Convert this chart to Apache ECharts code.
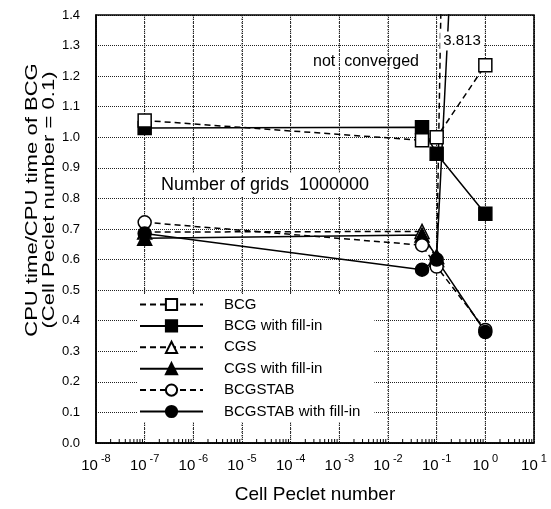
<!DOCTYPE html>
<html>
<head>
<meta charset="utf-8">
<script src="https://cdn.jsdelivr.net/npm/echarts@6/dist/echarts.min.js"></script>
<style>
html, body { margin: 0; padding: 0; background: #fff; }
#chart { width: 551px; height: 509px; }
</style>
</head>
<body>
<div id="chart"></div>
<script>
var FONT = '"Liberation Sans", Arial, Helvetica, sans-serif';

// Cell Peclet number of each run
var peclet = [1e-7, 0.05, 0.1, 1];

// CPU time / CPU time of BCG (Pe = 0.1)
var bcg         = [1.055, 0.99, 1.0, 1.236];
var bcgFill     = [1.03, 1.033, 0.946, 0.75];
var cgs         = [0.69, 0.692, 0.60, 10];    // Pe = 1 did not converge, drawn off the top
var cgsFill     = [0.67, 0.68, 0.61, 3.813];
var bcgstab     = [0.722, 0.647, 0.577, 0.37];
var bcgstabFill = [0.685, 0.567, 0.60, 0.363];

// decade exponents of the x axis
var decades = [-8, -7, -6, -5, -4, -3, -2, -1, 0, 1];

var legendNames = ['BCG', 'BCG with fill-in', 'CGS', 'CGS with fill-in', 'BCGSTAB', 'BCGSTAB with fill-in'];

// plot box in pixels
var GRID = { left: 96, right: 17, top: 15, bottom: 66 };
var plotH = 509 - GRID.top - GRID.bottom;
var plotBottom = 509 - GRID.bottom;

var chart = echarts.init(document.getElementById('chart'), null, { renderer: 'canvas' });

function makeSeries(name, values, symbol, filled) {
    return {
        name: name,
        type: 'line',
        data: peclet.map(function (x, i) { return [x, values[i]]; }),
        symbol: symbol,
        symbolSize: symbol === 'triangle' ? 14 : 13,
        showAllSymbol: true,
        clip: true,
        z: 3,
        lineStyle: { color: '#000', width: 1.5, type: filled ? 'solid' : [6, 4] },
        itemStyle: { color: filled ? '#000' : '#fff', borderColor: '#000', borderWidth: 1.5 },
        emphasis: { disabled: true }
    };
}

chart.setOption({
    animation: false,
    textStyle: { fontFamily: FONT, color: '#000' },
    grid: GRID,
    legend: {
        data: legendNames,
        orient: 'vertical',
        left: 137,
        top: 294,
        z: 4,
        itemWidth: 63,
        itemHeight: 14,
        itemGap: 6.4,
        padding: [3, 14, 3, 2],
        backgroundColor: '#fff',
        selectedMode: false,
        textStyle: { fontSize: 15, color: '#000', fontFamily: FONT, padding: [0, 0, 0, 16] }
    },
    xAxis: {
        type: 'log',
        logBase: 10,
        min: 1e-8,
        max: 10,
        interval: 1,
        axisLine: { lineStyle: { color: '#000', width: 1.5 } },
        axisTick: { show: false },
        splitLine: { show: true, lineStyle: { color: '#222', type: 'dotted', width: 1 } },
        axisLabel: {
            margin: 10,
            color: '#000',
            formatter: function (v) {
                return '{b|10}{s|' + Math.round(Math.log10(v)) + '}';
            },
            rich: {
                b: { fontSize: 15, fontFamily: FONT, color: '#000', verticalAlign: 'bottom', lineHeight: 20 },
                s: { fontSize: 11, fontFamily: FONT, color: '#000', verticalAlign: 'top', lineHeight: 20, padding: [0, 0, 0, 3] }
            }
        },
        name: 'Cell Peclet number',
        nameLocation: 'middle',
        nameGap: 42,
        nameTextStyle: { fontSize: 19, fontFamily: FONT, color: '#000' }
    },
    yAxis: {
        type: 'value',
        min: 0,
        max: 1.4,
        interval: 0.1,
        axisLine: { show: true, lineStyle: { color: '#000', width: 1.5 } },
        axisTick: { show: false },
        splitLine: { show: true, lineStyle: { color: '#222', type: 'dotted', width: 1 } },
        axisLabel: {
            margin: 16,
            fontSize: 13,
            color: '#000',
            formatter: function (v) { return v.toFixed(1); }
        }
    },
    series: [
        makeSeries('BCG with fill-in', bcgFill, 'rect', true),
        makeSeries('BCG', bcg, 'rect', false),
        makeSeries('CGS', cgs, 'triangle', false),
        makeSeries('CGS with fill-in', cgsFill, 'triangle', true),
        makeSeries('BCGSTAB', bcgstab, 'circle', false),
        makeSeries('BCGSTAB with fill-in', bcgstabFill, 'circle', true)
    ]
});

// decade grid lines and log minor ticks, placed through the x axis scale
var graphics = [];
decades.forEach(function (e) {
    var px = chart.convertToPixel({ xAxisIndex: 0 }, Math.pow(10, e));
    graphics.push({
        type: 'line', silent: true, z: 1,
        shape: { x1: px, y1: GRID.top, x2: px, y2: plotBottom },
        style: { stroke: '#222', lineWidth: 1, lineDash: [1.5, 2] }
    });
    if (e < 1) {
        for (var k = 2; k <= 9; k++) {
            var mx = chart.convertToPixel({ xAxisIndex: 0 }, k * Math.pow(10, e));
            graphics.push({
                type: 'line', silent: true, z: 5,
                shape: { x1: mx, y1: plotBottom, x2: mx, y2: plotBottom - 4 },
                style: { stroke: '#000', lineWidth: 1 }
            });
        }
    }
});

graphics.push(
    {
        // frame round the plot box
        type: 'rect',
        silent: true,
        z: 5,
        shape: { x: GRID.left, y: GRID.top, width: 551 - GRID.left - GRID.right, height: plotH },
        style: { fill: null, stroke: '#000', lineWidth: 1.5 }
    },
    {
        type: 'text',
        x: 41,
        y: 200,
        rotation: Math.PI / 2,
        scaleX: 1.38,
        style: {
            text: 'CPU time/CPU time of BCG\n(Cell Peclet number = 0.1)',
            fontSize: 16,
            fontFamily: FONT,
            lineHeight: 17,
            fill: '#000',
            align: 'center',
            verticalAlign: 'middle'
        }
    },
    {
        type: 'text',
        x: 159,
        y: 185,
        z: 50,
        style: {
            text: 'Number of grids  1000000',
            fontSize: 18,
            fontFamily: FONT,
            fill: '#000',
            align: 'left',
            verticalAlign: 'middle',
            backgroundColor: '#fff',
            padding: [3, 2]
        }
    },
    {
        type: 'text',
        x: 366,
        y: 62,
        z: 50,
        style: {
            text: 'not  converged',
            fontSize: 16,
            fontFamily: FONT,
            fill: '#000',
            align: 'center',
            verticalAlign: 'middle'
        }
    },
    {
        type: 'text',
        x: 462,
        y: 41,
        z: 50,
        style: {
            text: '3.813',
            fontSize: 15,
            fontFamily: FONT,
            fill: '#000',
            align: 'center',
            verticalAlign: 'middle',
            backgroundColor: '#fff',
            padding: [2, 3]
        }
    }
);

chart.setOption({ graphic: graphics });
</script>
</body>
</html>
